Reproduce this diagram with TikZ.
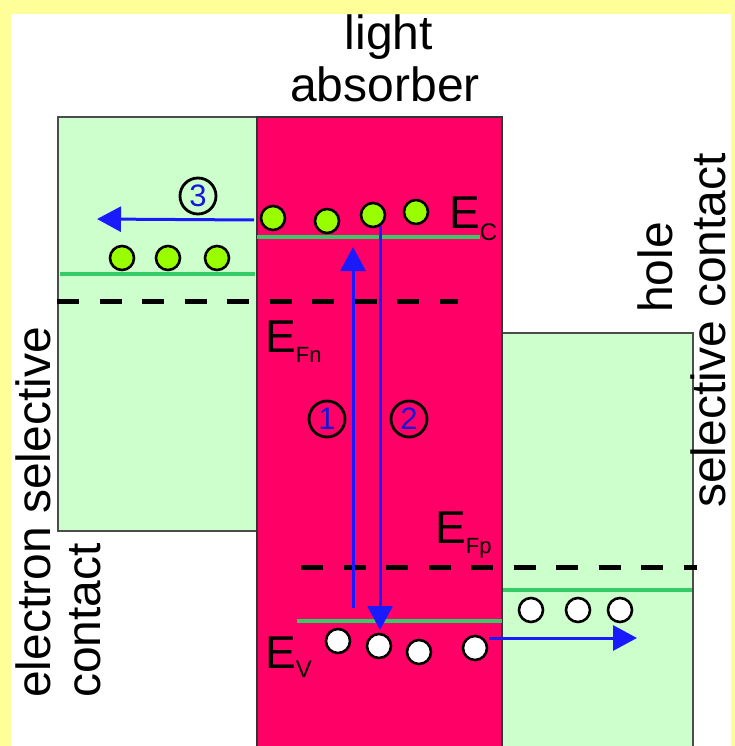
\documentclass[tikz,border=0pt]{standalone}
\usepackage{fontspec}
\setmainfont{Liberation Sans}
\usetikzlibrary{arrows.meta}
\definecolor{bgyellow}{HTML}{FFFF99}
\definecolor{contactgreen}{HTML}{CCFFCC}
\definecolor{absorberred}{HTML}{FF0066}
\definecolor{levelgreen}{HTML}{33CC66}
\definecolor{electronfill}{HTML}{99FF00}
\definecolor{arrowblue}{HTML}{1A1AFF}
\begin{document}
\begin{tikzpicture}[x=1pt,y=-1pt,
  contactbox/.style={fill=contactgreen,draw=black!70,line width=1.5pt},
  absorberbox/.style={fill=absorberred,draw=black!80,line width=1.5pt},
  level/.style={draw=levelgreen,line width=4pt},
  fermi/.style={draw=black,line width=5pt,dash pattern=on 22pt off 20.5pt},
  flow/.style={draw=arrowblue,line width=3pt,-{Triangle[length=24pt,width=25pt]}},
  electron/.style={circle,fill=electronfill,draw=black,line width=2.6pt,minimum size=24pt,inner sep=0pt},
  hole/.style={circle,fill=white,draw=black,line width=2.6pt,minimum size=24pt,inner sep=0pt},
  bigtext/.style={inner sep=0pt,font=\fontsize{48}{52}\selectfont},
  elabel/.style={inner sep=0pt,anchor=base west,font=\fontsize{46}{50}\selectfont},
  stepnum/.style={circle,draw=black,line width=2.8pt,minimum size=36pt,inner sep=0pt,text=arrowblue!85!black,font=\fontsize{31}{31}\selectfont}
]
\useasboundingbox (0,0) rectangle (735,746);
% background
\fill[bgyellow] (0,0) rectangle (735,746);
\fill[white] (11,14) rectangle (731,746);

% boxes
\path[contactbox] (58,117) rectangle (257,531);
\path[contactbox] (502,333) rectangle (693,748);
\path[absorberbox] (257,117) rectangle (502,748);

% band levels
\path[level] (257,237) -- (480,237);
\path[level] (60,274) -- (255,274);
\path[level] (503,590) -- (692,590);
\path[level] (297,621) -- (502,621);

% quasi-Fermi levels
\path[fermi] (57,301) -- (458,301);
\path[fermi] (301,567) -- (697,567);

% arrow end points
\coordinate (a1s) at (353,608);
\coordinate (a1e) at (353,247);
\coordinate (a2s) at (380,226);
\coordinate (a2e) at (380,630);
\coordinate (a3s) at (254,220);
\coordinate (a3e) at (97,219);
\coordinate (a4s) at (489,638);
\coordinate (a4e) at (637,638);
\path[flow] (a1s) -- (a1e);
\path[flow] (a2s) -- (a2e);
\path[flow] (a3s) -- (a3e);
\path[flow] (a4s) -- (a4e);

% electrons
\node[electron] (e1) at (273,218) {};
\node[electron] (e2) at (327,221) {};
\node[electron] (e3) at (373,215) {};
\node[electron] (e4) at (416,212) {};
\node[electron] (e5) at (122,258) {};
\node[electron] (e6) at (168,258) {};
\node[electron] (e7) at (217,258) {};

% holes
\node[hole] (h1) at (338,641) {};
\node[hole] (h2) at (379,646) {};
\node[hole] (h3) at (419,652) {};
\node[hole] (h4) at (475,648) {};
\node[hole] (h5) at (531,610) {};
\node[hole] (h6) at (578,610) {};
\node[hole] (h7) at (620,610) {};

% step numbers
\node[stepnum] (n1) at (327,419) {1};
\node[stepnum] (n2) at (409,419) {2};
\node[stepnum] (n3) at (198,196) {3};

% energy labels
\node[elabel] (ec) at (449,228) {E\raisebox{-12pt}{\fontsize{24}{24}\selectfont C}};
\node[elabel] (efn) at (265,352) {E\raisebox{-10pt}{\fontsize{22}{22}\selectfont Fn}};
\node[elabel] (efp) at (435,543) {E\raisebox{-10pt}{\fontsize{22}{22}\selectfont Fp}};
\node[elabel] (ev) at (265,668) {E\raisebox{-9pt}{\fontsize{24}{24}\selectfont V}};

% titles
\node[bigtext,anchor=base] (t1) at (389,50) {light};
\node[bigtext,anchor=base] (t2) at (385,102) {absorber};
\node[bigtext,anchor=base west,rotate=90] (t3) at (50,698) {electron selective};
\node[bigtext,anchor=base west,rotate=90] (t4) at (100,698) {contact};
\node[bigtext,anchor=base west,rotate=90] (t5) at (672,313) {hole};
\node[bigtext,anchor=base west,rotate=90] (t6) at (725,508) {selective contact};
\end{tikzpicture}
\end{document}
